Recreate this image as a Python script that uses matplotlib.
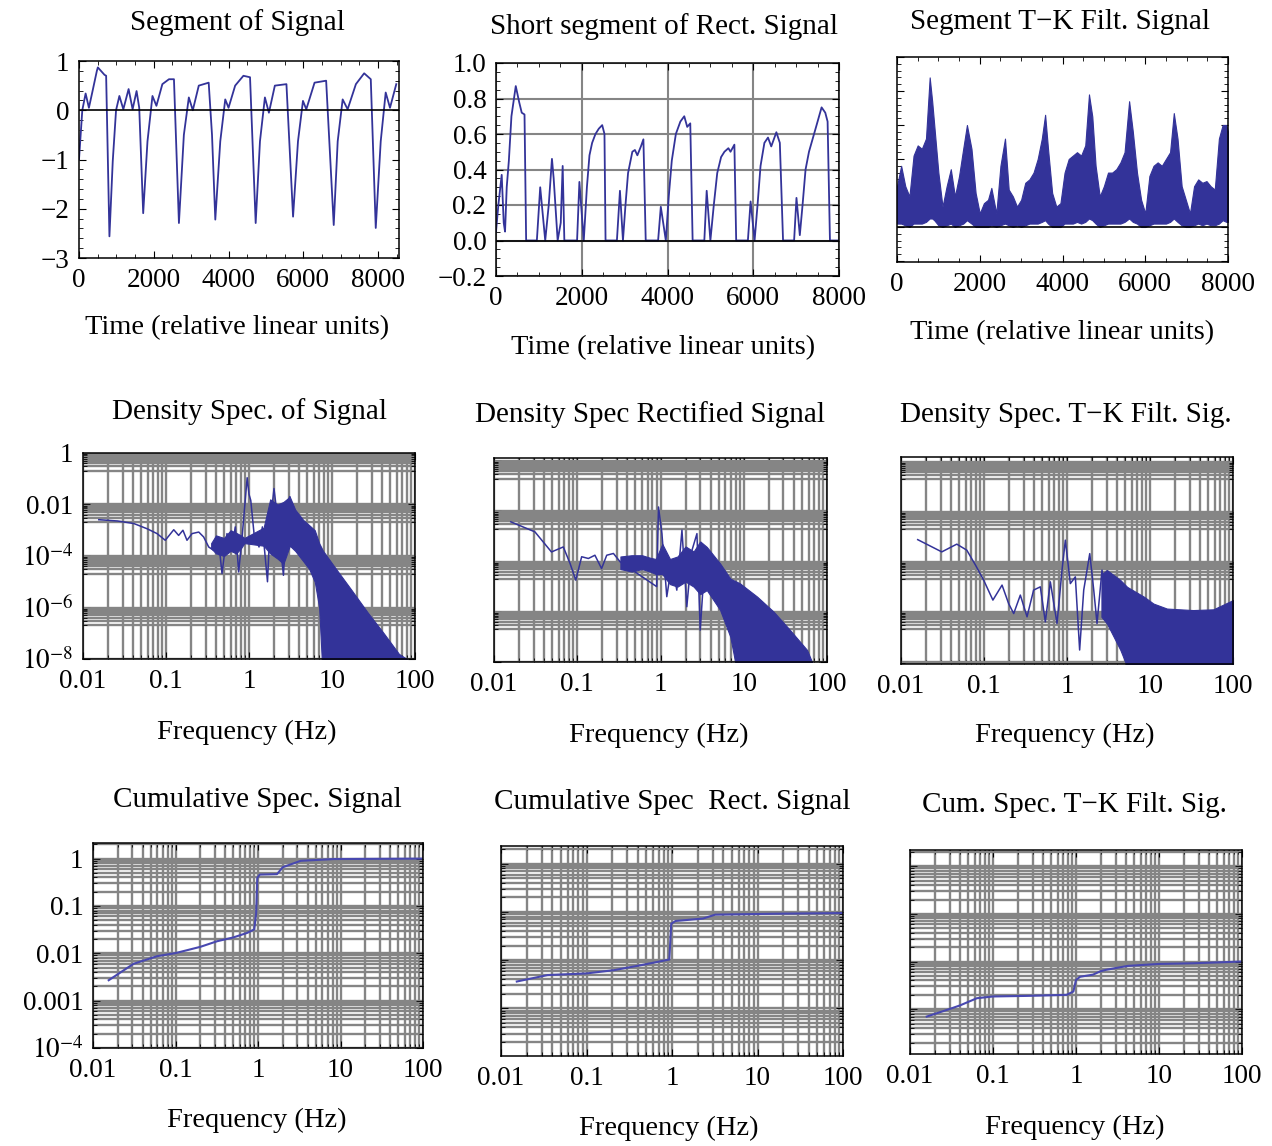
import matplotlib
matplotlib.use("Agg")
import matplotlib.pyplot as plt
import numpy as np

plt.rcParams['font.family'] = ['Liberation Serif', 'DejaVu Serif']
plt.rcParams['mathtext.fontset'] = 'stix'

W, H = 1272, 1146
BLUE = '#333399'
GRID = '#858585'

# ---- row 1: time segments ----
sig_t = [0, 88, 177, 265, 354, 478, 504, 681, 726, 814, 903, 991, 1080, 1186, 1327, 1434,
         1540, 1611, 1717, 1832, 1965, 2071, 2230, 2407, 2540, 2673, 2805, 2938, 3044, 3204,
         3469, 3558, 3646, 3779, 3912, 4000, 4177, 4398, 4575, 4726, 4841, 4973, 5080, 5239,
         5549, 5726, 5858, 5991, 6080, 6301, 6611, 6814, 6920, 7053, 7186, 7407, 7628, 7805,
         7938, 8071, 8204, 8319, 8487]
sig_v = [-1.0, 0.0, 0.34, 0.05, 0.36, 0.8, 0.87, 0.72, 0.7, -2.56, -1.03, 0.0, 0.29, 0.02, 0.43, 0.02,
         0.39, 0.05, -2.09, -0.63, 0.29, 0.09, 0.53, 0.63, 0.63, -2.29, -0.5, 0.26, 0.0, 0.5,
         0.56, -0.5, -2.22, -0.63, 0.22, 0.05, 0.5, 0.7, 0.67, -2.29, -0.63, 0.26, -0.05, 0.5,
         0.53, -2.16, -0.63, 0.19, 0.02, 0.56, 0.6, -2.33, -0.63, 0.22, 0.02, 0.53, 0.75, 0.63,
         -2.39, -0.63, 0.36, 0.05, 0.53]

rect_t = [0, 55, 133, 180, 211, 250, 300, 360, 461, 540, 600, 665, 703, 953, 1031, 1148, 1230, 1305,
          1345, 1438, 1510, 1555, 1594, 1891, 1945, 2047, 2120, 2180, 2242, 2320, 2398, 2477, 2530,
          2555, 2820, 2891, 2961, 3020, 3080, 3180, 3240, 3297, 3380, 3438, 3492, 3781, 3844, 3961,
          4030, 4100, 4195, 4300, 4391, 4460, 4531, 4586, 4859, 4914, 5000, 5080, 5160, 5250, 5328,
          5420, 5470, 5560, 5602, 5875, 5938, 6031, 6100, 6170, 6260, 6344, 6420, 6539, 6620, 6695,
          6953, 7008, 7086, 7150, 7220, 7300, 7359, 7477, 7594, 7680, 7734, 7789, 8000]
rect_v = [0.05, 0.2, 0.37, 0.1, 0.05, 0.3, 0.45, 0.7, 0.87, 0.78, 0.72, 0.71, 0.0, 0.0, 0.3, 0.0, 0.2,
          0.46, 0.35, 0.0, 0.1, 0.42, 0.0, 0.0, 0.33, 0.0, 0.3, 0.48, 0.55, 0.6, 0.63, 0.65, 0.6,
          0.0, 0.0, 0.28, 0.0, 0.2, 0.38, 0.5, 0.51, 0.48, 0.53, 0.57, 0.0, 0.0, 0.19, 0.0,
          0.25, 0.45, 0.6, 0.67, 0.7, 0.64, 0.66, 0.0, 0.0, 0.28, 0.0, 0.2, 0.38, 0.47, 0.5,
          0.52, 0.5, 0.54, 0.0, 0.0, 0.22, 0.0, 0.2, 0.42, 0.55, 0.58, 0.53, 0.61, 0.55, 0.0,
          0.0, 0.24, 0.03, 0.2, 0.4, 0.5, 0.55, 0.65, 0.75, 0.72, 0.67, 0.0, 0.0]

tk_t = [0, 100, 200, 300, 400, 500, 600, 700, 790, 850, 900, 1000, 1100, 1200, 1300, 1400, 1500,
        1600, 1690, 1800, 1900, 2000, 2100, 2200, 2280, 2400, 2500, 2610, 2700, 2800, 2900, 3000,
        3100, 3200, 3300, 3400, 3500, 3580, 3650, 3750, 3850, 3950, 4050, 4150, 4250, 4350, 4450,
        4550, 4640, 4720, 4800, 4900, 5000, 5100, 5200, 5300, 5400, 5500, 5610, 5700, 5800, 5900,
        6000, 6100, 6200, 6300, 6400, 6500, 6600, 6690, 6780, 6880, 6980, 7080, 7180, 7280, 7380,
        7480, 7580, 7680, 7780, 7870, 7960, 8000]
tk_hi = [1.2, 1.8, 1.2, 0.9, 2.1, 2.4, 2.3, 2.6, 4.4, 3.7, 3.0, 1.6, 0.6, 1.2, 1.7, 0.9, 1.5,
         2.3, 3.0, 2.3, 1.0, 0.4, 0.7, 0.8, 1.15, 0.4, 1.8, 2.6, 1.1, 0.9, 0.6, 0.8,
         1.3, 1.4, 1.6, 2.0, 2.6, 3.3, 2.3, 1.0, 0.6, 0.7, 1.6, 2.0, 2.1, 2.2, 2.1,
         2.4, 3.9, 3.25, 1.8, 0.9, 1.2, 1.6, 1.6, 1.7, 1.9, 2.2, 3.7, 2.8, 1.6, 0.8,
         0.4, 1.5, 1.8, 1.9, 1.8, 2.0, 2.2, 3.35, 2.6, 1.2, 0.8, 0.4, 1.2, 1.4, 1.3,
         1.35, 1.2, 1.1, 2.6, 3.0, 3.0, 2.8]
tk_lo = [0.1, 0.1, 0.05, 0.0, 0.1, 0.1, 0.1, 0.15, 0.25, 0.25, 0.2, 0.05, 0.0, 0.05, 0.1, 0.0, 0.05,
         0.1, 0.2, 0.1, 0.0, 0.0, 0.0, 0.0, 0.05, 0.0, 0.05, 0.1, 0.05, 0.0, 0.05, 0.0,
         0.05, 0.1, 0.1, 0.1, 0.15, 0.2, 0.1, 0.0, 0.0, 0.0, 0.1, 0.1, 0.1, 0.15, 0.1,
         0.15, 0.25, 0.2, 0.1, 0.0, 0.05, 0.1, 0.1, 0.1, 0.1, 0.15, 0.25, 0.15, 0.1, 0.0,
         0.0, 0.05, 0.1, 0.1, 0.1, 0.1, 0.15, 0.25, 0.15, 0.05, 0.0, 0.0, 0.05, 0.1, 0.05,
         0.1, 0.05, 0.05, 0.1, 0.2, 0.15, 0.15]

# ---- row 2: density spectra (log10 of power) ----
ds_f = [0.0155, 0.026, 0.041, 0.059, 0.078, 0.098, 0.124, 0.142, 0.16, 0.179, 0.206, 0.248, 0.284,
        0.327, 0.375, 0.431, 0.473, 0.543, 0.624, 0.684, 0.751, 0.824, 0.95, 1.0, 1.05, 1.15, 1.32,
        1.45, 1.67, 1.8, 2.0, 2.2, 2.6, 2.9, 3.1]
ds_p = [-2.59, -2.64, -2.74, -2.94, -3.13, -3.39, -2.98, -3.2, -3.0, -3.39, -3.13, -3.07, -3.26,
        -3.65, -3.78, -3.45, -4.68, -3.13, -3.65, -2.87, -4.62, -3.3, -0.96, -1.6, -1.84, -3.13, -3.65,
        -2.87, -5.0, -2.74, -1.38, -2.49, -4.75, -1.97, -1.7]
ds_env_f = [0.35, 0.4, 0.5, 0.6, 0.7, 0.8, 0.88, 1.5, 1.8, 2.2, 2.6, 3.1, 3.6, 4.5, 5.3, 6.2,
            7.0, 7.8, 10.6, 17, 27, 42, 64, 80]
ds_env_hi = [-3.5, -3.2, -3.3, -3.0, -3.1, -3.2, -3.3, -2.9, -1.8, -2.0, -1.9, -1.7, -2.2, -2.6,
             -2.8, -3.0, -3.5, -3.8, -4.4, -5.3, -6.2, -7.0, -7.8, -8.0]
ds_env_lo = [-3.7, -3.9, -4.0, -3.8, -3.9, -3.7, -3.5, -3.6, -3.9, -4.1, -4.3, -3.6, -3.8, -4.2,
             -4.5, -5.0, -6.0, -9.0, -9.0, -9.0, -9.0, -9.0, -9.0, -9.0]

dr_f = [0.0159, 0.031, 0.049, 0.068, 0.082, 0.096, 0.113, 0.136, 0.163, 0.196, 0.226, 0.272, 0.327,
        0.9, 0.946, 1.04, 1.19, 1.37, 1.57, 1.81, 2.07, 2.39, 2.74, 3.0, 3.45]
dr_p = [-2.42, -2.82, -3.62, -3.42, -4.08, -4.74, -3.81, -3.88, -3.75, -4.28, -3.75, -3.68, -4.01,
        -5.0, -1.83, -2.89, -5.4, -4.08, -5.14, -2.75, -5.8, -3.55, -2.89, -6.73, -3.68]
dr_env_f = [0.33, 0.45, 0.6, 0.75, 0.88, 1.05, 1.3, 1.6, 2.0, 2.5, 3.0, 3.6, 5.2, 6.9, 9.0, 14.5,
            22.9, 36.0, 57.6, 66]
dr_env_hi = [-3.8, -3.75, -3.75, -3.85, -3.9, -3.3, -3.9, -3.8, -3.4, -3.6, -3.2, -3.42, -4.08, -4.68,
             -4.87, -5.4, -6.0, -6.73, -7.52, -8.0]
dr_env_lo = [-4.3, -4.4, -4.3, -4.4, -4.5, -4.5, -4.9, -5.0, -4.8, -5.0, -5.3, -5.14, -5.93, -7.0,
             -9.0, -9.0, -9.0, -9.0, -9.0, -9.0]

dt_f = [0.0159, 0.031, 0.047, 0.062, 0.079, 0.099, 0.128, 0.165, 0.198, 0.228, 0.274, 0.33, 0.396,
        0.477, 0.548, 0.63, 0.758, 0.871, 0.955, 1.097, 1.26, 1.42, 1.59, 1.88, 2.10, 2.30, 2.64, 3.03]
dt_p = [-3.11, -3.6, -3.29, -3.53, -4.13, -4.73, -5.53, -4.93, -5.67, -6.07, -5.33, -6.2, -5.13,
        -5.0, -6.4, -4.8, -6.47, -4.33, -3.13, -4.87, -4.6, -7.53, -5.13, -3.67, -5.13, -6.47, -4.33, -5.4]
dt_env_f = [2.6, 3.03, 4.4, 5.3, 8.5, 11, 16, 33, 58, 100]
dt_env_hi = [-4.5, -4.33, -4.73, -5.0, -5.4, -5.67, -5.87, -5.93, -5.9, -5.53]
dt_env_lo = [-6.2, -6.47, -7.53, -8.2, -9.0, -9.0, -9.0, -9.0, -9.0, -9.0]

# ---- row 3: cumulative spectra ----
cs_f = [0.0155, 0.031, 0.06, 0.1, 0.2, 0.32, 0.5, 0.74, 0.9, 0.95, 0.98, 1.05, 1.7, 2.0, 3.3, 8.4, 100]
cs_v = [0.0027, 0.006, 0.0087, 0.0101, 0.0137, 0.018, 0.0216, 0.027, 0.032, 0.07, 0.39, 0.46, 0.47,
        0.66, 0.9, 0.98, 1.0]
cr_f = [0.0153, 0.035, 0.1, 0.21, 0.44, 0.93, 0.98, 1.1, 2.3, 3.2, 16, 100]
cr_v = [0.036, 0.049, 0.053, 0.062, 0.079, 0.103, 0.57, 0.65, 0.73, 0.88, 0.92, 0.95]
ct_f = [0.0159, 0.028, 0.04, 0.064, 0.1, 0.25, 0.77, 0.93, 1.0, 1.12, 1.6, 1.95, 2.3, 4.2, 10, 26, 100]
ct_v = [0.07, 0.097, 0.12, 0.17, 0.185, 0.19, 0.2, 0.235, 0.41, 0.48, 0.53, 0.62, 0.67, 0.81, 0.89,
        0.92, 1.0]

freq_ticks = [0.01, 0.1, 1, 10, 100]
freq_labels = ['0.01', '0.1', '1', '10', '100']

TITLE_SIZE = 21
LABEL_SIZE = 20.5
TICK_SIZE = 19.5


def box(fig, l, t, r, b):
    ax = fig.add_axes([l / W, 1 - b / H, (r - l) / W, (b - t) / H])
    for s in ax.spines.values():
        s.set_linewidth(1.1)
    ax.tick_params(which='both', direction='in', top=True, right=True, labelsize=TICK_SIZE, pad=7)
    ax.tick_params(which='major', length=5)
    ax.tick_params(which='minor', length=3)
    ax.set_axisbelow(True)
    return ax


def label(fig, x, y, s, size=LABEL_SIZE):
    fig.text(x / W, 1 - y / H, s, ha='center', va='center', fontsize=size)


def log_grid(ax, ylo, yhi, step):
    ax.set_xscale('log')
    ax.set_yscale('log')
    ax.set_xlim(0.01, 100)
    ax.set_xticks(freq_ticks)
    ax.set_xticklabels(freq_labels)
    ax.set_xticks([k * 10.0 ** e for e in range(-2, 2) for k in range(2, 10)], minor=True)
    exps = range(-10, 4, step)
    ax.set_yticks([10.0 ** e for e in exps])
    ax.set_yticks([k * 10.0 ** (e - 1 if step == 2 else e) for e in exps for k in range(2, 10)],
                  minor=True)
    ax.set_ylim(ylo, yhi)
    ax.grid(which='both', color=GRID, lw=1.7)
    ax.yaxis.set_minor_formatter(plt.NullFormatter())
    ax.xaxis.set_minor_formatter(plt.NullFormatter())


def spectrum(ax, f, p, env_f, env_lo, env_hi, ylo, yhi):
    ax.fill_between(env_f, 10.0 ** np.array(env_lo), 10.0 ** np.array(env_hi),
                    color=BLUE, lw=0.8, edgecolor=BLUE)
    ax.plot(f, 10.0 ** np.array(p), color=BLUE, lw=1.1)
    ax.set_ylim(ylo, yhi)


fig = plt.figure(figsize=(W / 100, H / 100), dpi=100)

# Segment of Signal
ax = box(fig, 79, 61, 399, 258)
ax.plot(sig_t, sig_v, color=BLUE, lw=1.3)
ax.axhline(0, color='black', lw=1.2)
ax.set_xlim(0, 8560)
ax.set_ylim(-3, 1)
ax.set_xticks([0, 2000, 4000, 6000, 8000])
ax.set_xticks(np.arange(0, 8600, 500), minor=True)
ax.set_yticks([-3, -2, -1, 0, 1])
ax.set_yticklabels(['\u22123', '\u22122', '\u22121', '0', '1'])
ax.set_yticks(np.arange(-3, 1.01, 0.2), minor=True)
label(fig, 237, 23, 'Segment of Signal', TITLE_SIZE)
label(fig, 237, 328, 'Time (relative linear units)')

# Short segment of Rect. Signal
ax = box(fig, 496, 63, 839, 276)
ax.plot(rect_t, rect_v, color=BLUE, lw=1.3)
ax.axhline(0, color='black', lw=1.2)
ax.set_xlim(0, 8000)
ax.set_ylim(-0.2, 1.0)
ax.set_xticks([0, 2000, 4000, 6000, 8000])
ax.set_xticks(np.arange(0, 8001, 500), minor=True)
ax.set_yticks(np.arange(-0.2, 1.01, 0.2))
ax.set_yticklabels(['\u22120.2', '0.0', '0.2', '0.4', '0.6', '0.8', '1.0'])
ax.set_yticks(np.arange(-0.2, 1.01, 0.05), minor=True)
ax.grid(which='major', color=GRID, lw=1.5)
label(fig, 664, 27, 'Short segment of Rect. Signal', TITLE_SIZE)
label(fig, 663, 348, 'Time (relative linear units)')

# Segment T-K Filt. Signal
ax = box(fig, 897, 57, 1228, 262)
ax.fill_between(tk_t, tk_lo, tk_hi, color=BLUE, lw=0.8, edgecolor=BLUE)
ax.axhline(0, color='black', lw=1.2)
ax.set_xlim(0, 8000)
ax.set_ylim(-1.03, 5.0)
ax.set_xticks([0, 2000, 4000, 6000, 8000])
ax.set_xticks(np.arange(0, 8001, 500), minor=True)
ax.set_yticks([-1, 0, 1, 2, 3, 4, 5])
ax.set_yticks(np.arange(-1, 5.01, 0.2), minor=True)
ax.set_yticklabels([])
label(fig, 1060, 22, 'Segment T\u2212K Filt. Signal', TITLE_SIZE)
label(fig, 1062, 333, 'Time (relative linear units)')

# Density spectra
ax = box(fig, 83, 453, 415, 659)
log_grid(ax, 1e-8, 1, 2)
ax.set_yticklabels(['', '$10^{-8}$', '$10^{-6}$', '$10^{-4}$', '0.01', '1', ''])
spectrum(ax, ds_f, ds_p, ds_env_f, ds_env_lo, ds_env_hi, 1e-8, 1)
label(fig, 249, 412, 'Density Spec. of Signal', TITLE_SIZE)
label(fig, 247, 732, 'Frequency (Hz)')

ax = box(fig, 494, 458, 827, 662)
log_grid(ax, 10 ** -8.0, 10 ** 0.12, 2)
ax.set_yticklabels([])
spectrum(ax, dr_f, dr_p, dr_env_f, dr_env_lo, dr_env_hi, 10 ** -8.0, 10 ** 0.12)
label(fig, 650, 415, 'Density Spec Rectified Signal', TITLE_SIZE)
label(fig, 659, 735, 'Frequency (Hz)')

ax = box(fig, 901, 457, 1233, 664)
log_grid(ax, 10 ** -8.09, 10 ** 0.2, 2)
ax.set_yticklabels([])
spectrum(ax, dt_f, dt_p, dt_env_f, dt_env_lo, dt_env_hi, 10 ** -8.09, 10 ** 0.2)
label(fig, 1066, 415, 'Density Spec. T\u2212K Filt. Sig.', TITLE_SIZE)
label(fig, 1065, 735, 'Frequency (Hz)')

# Cumulative spectra
ax = box(fig, 93, 843, 423, 1048)
log_grid(ax, 1e-4, 10 ** 0.33, 1)
ax.set_yticks([1e-4, 1e-3, 1e-2, 0.1, 1])
ax.set_yticklabels(['$10^{-4}$', '0.001', '0.01', '0.1', '1'])
ax.plot(cs_f, cs_v, color='#4848b0', lw=1.5)
ax.set_ylim(1e-4, 10 ** 0.33)
label(fig, 257, 800, 'Cumulative Spec. Signal', TITLE_SIZE)
label(fig, 257, 1120, 'Frequency (Hz)')

ax = box(fig, 501, 846, 843, 1056)
log_grid(ax, 10 ** -2.99, 10 ** 1.37, 1)
ax.set_yticklabels([])
ax.plot(cr_f, cr_v, color='#4848b0', lw=1.5)
ax.set_ylim(10 ** -2.99, 10 ** 1.37)
label(fig, 672, 802, 'Cumulative Spec  Rect. Signal', TITLE_SIZE)
label(fig, 669, 1128, 'Frequency (Hz)')

ax = box(fig, 910, 850, 1242, 1054)
log_grid(ax, 10 ** -1.94, 10 ** 2.34, 1)
ax.set_yticklabels([])
ax.plot(ct_f, ct_v, color='#4848b0', lw=1.5)
ax.set_ylim(10 ** -1.94, 10 ** 2.34)
label(fig, 1074, 805, 'Cum. Spec. T\u2212K Filt. Sig.', TITLE_SIZE)
label(fig, 1075, 1127, 'Frequency (Hz)')

fig.savefig('out.png', dpi=100)
